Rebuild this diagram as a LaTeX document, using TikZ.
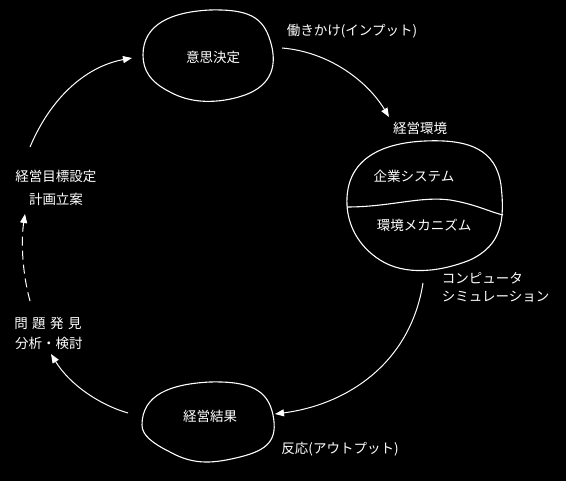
\documentclass[tikz,border=0pt]{standalone}
\usepackage{fontspec}
\setmainfont{Noto Sans CJK JP}
\usetikzlibrary{arrows.meta}

\begin{document}
\begin{tikzpicture}[x=1pt,y=1pt,yscale=-1,xscale=1,
  blob/.style={draw=white,line width=1.1pt},
  lbl/.style={text=white,inner sep=0.75pt,font=\fontsize{13.5pt}{16pt}\selectfont},
  flow/.style={draw=white,line width=1pt,-{Triangle[length=9pt,width=7pt]}}]
\fill[black] (0,0) rectangle (566,481);
% blobs
\draw [blob] (143,55) .. controls (143,25) and (170,12) .. (210,10) .. controls (250,9) and (263,18) .. (270,40) .. controls (278,65) and (272,85) .. (245,95) .. controls (225,102) and (195,106) .. (170,92) .. controls (150,82) and (143,70) .. cycle ;
\draw [blob] (347,205) .. controls (345,160) and (380,143) .. (425,141) .. controls (470,139) and (496,150) .. (501,185) .. controls (505,220) and (502,245) .. (470,260) .. controls (440,272) and (405,276) .. (380,260) .. controls (358,246) and (348,225) .. cycle ;
\draw [blob] (347,207) .. controls (390,207) and (420,196) .. (450,200) .. controls (475,204) and (490,212) .. (503,215) ;
\draw [blob] (142,425) .. controls (142,395) and (170,384) .. (210,382) .. controls (250,381) and (268,390) .. (273,415) .. controls (278,440) and (268,450) .. (240,457) .. controls (215,463) and (195,466) .. (170,452) .. controls (152,443) and (142,435) .. cycle ;
% texts
\node [lbl] (decide) at (213,57) {意思決定};
\node [lbl] (corp) at (414,176) {企業システム};
\node [lbl] (mech) at (424,225) {環境メカニズム};
\node [lbl] (result) at (210,416) {経営結果};
\node [lbl] (env) at (420,128) {経営環境};
\node [lbl] (input) at (352,31) {働きかけ(インプット)};
\node [lbl,anchor=west] (comp) at (441,278) {コンピュータ};
\node [lbl,anchor=west] (sim) at (441,297) {シミュレーション};
\node [lbl] (output) at (340,449) {反応(アウトプット)};
\node [lbl] (goal) at (56,176) {経営目標設定};
\node [lbl] (plan) at (56,199) {計画立案};
\node [lbl] (prob) at (48,323) {問\,\,題\,\,発\,\,見};
\node [lbl] (anal) at (49,343) {分析・検討};
% arrow ends
\coordinate (a1) at (282,48);
\coordinate (a2) at (389,117);
\coordinate (b1) at (423,283);
\coordinate (b2) at (275,414);
\coordinate (c1) at (128,413);
\coordinate (c2) at (51,354);
\coordinate (d1) at (30,301);
\coordinate (d2) at (25,214);
\coordinate (e1) at (30,147);
\coordinate (e2) at (132,58);
\draw [flow] (a1) .. controls (330,52) and (368,82) .. (a2);
\draw [flow] (b1) .. controls (410,365) and (345,405) .. (b2);
\draw [flow] (c1) .. controls (100,405) and (70,385) .. (c2);
\draw [flow,dash pattern=on 9pt off 5pt] (d1) .. controls (22,272) and (21,240) .. (d2);
\draw [flow] (e1) .. controls (52,95) and (88,66) .. (e2);
\end{tikzpicture}
\end{document}
